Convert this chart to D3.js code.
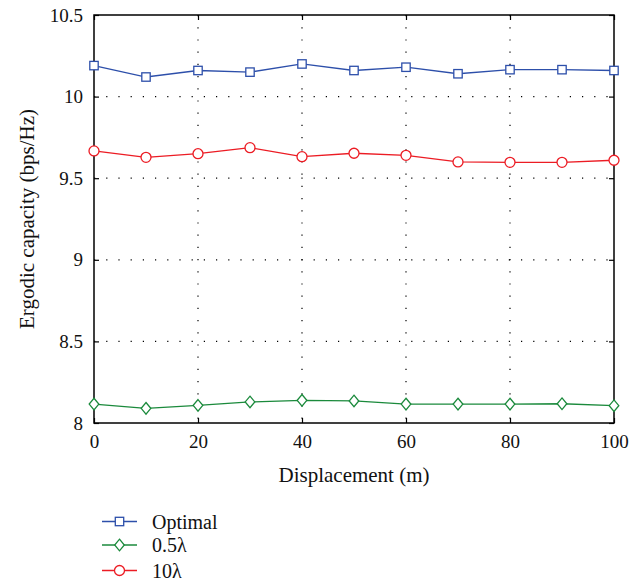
<!DOCTYPE html>
<html><head><meta charset="utf-8">
<script src="https://cdn.jsdelivr.net/npm/d3@7"></script>
<style>body{margin:0;background:#fff}svg{display:block}</style>
</head><body>
<svg id="c" width="643" height="584"></svg>
<script>
const displacement = [0,10,20,30,40,50,60,70,80,90,100];
const optimal = [10.19,10.12,10.16,10.15,10.20,10.16,10.18,10.14,10.165,10.165,10.16];
const half = [8.116,8.09,8.108,8.129,8.139,8.135,8.116,8.116,8.116,8.118,8.106];
const ten = [9.667,9.628,9.65,9.687,9.632,9.653,9.64,9.60,9.597,9.597,9.61];
const xTicks = [0,20,40,60,80,100];
const yTicks = [8,8.5,9,9.5,10,10.5];
const seriesNames = ["Optimal","0.5\u03bb","10\u03bb"];

const FONT = "'Liberation Serif', 'Times New Roman', 'DejaVu Serif', serif";
const svg = d3.select("#c");
const L=94,R=614,T=15,B=423;
const x = d3.scaleLinear().domain([0,100]).range([L,R]);
const y = d3.scaleLinear().domain([8,10.5]).range([B,T]);

const g = svg.append("g");
xTicks.filter(v=>v>0&&v<100).forEach(v=>{
  g.append("line").attr("x1",x(v)).attr("x2",x(v)).attr("y1",T).attr("y2",B)
   .attr("stroke","#000").attr("stroke-width",1.2).attr("stroke-dasharray","1.2,11");
});
yTicks.filter(v=>v>8&&v<10.5).forEach(v=>{
  g.append("line").attr("x1",L).attr("x2",R).attr("y1",y(v)).attr("y2",y(v))
   .attr("stroke","#000").attr("stroke-width",1.2).attr("stroke-dasharray","1.2,11");
});

const xa = svg.append("g").attr("transform",`translate(0,${B})`)
  .call(d3.axisBottom(x).tickValues(xTicks).tickSize(-5).tickPadding(12).tickFormat(d3.format("d")));
const xt = svg.append("g").attr("transform",`translate(0,${T})`)
  .call(d3.axisTop(x).tickValues(xTicks).tickSize(-5).tickFormat(""));
const ya = svg.append("g").attr("transform",`translate(${L},0)`)
  .call(d3.axisLeft(y).tickValues(yTicks).tickSize(-5).tickPadding(11).tickFormat(d=>d3.format("~g")(d)));
const yr = svg.append("g").attr("transform",`translate(${R},0)`)
  .call(d3.axisRight(y).tickValues(yTicks).tickSize(-5).tickFormat(""));
[xa,xt,ya,yr].forEach(a=>{
  a.attr("font-family",FONT).attr("font-size",19);
  a.select(".domain").remove();
  a.selectAll("line").attr("stroke","#000").attr("stroke-width",1.2);
  a.selectAll("text").attr("fill","#111");
});
svg.append("rect").attr("x",L).attr("y",T).attr("width",R-L).attr("height",B-T)
  .attr("fill","none").attr("stroke","#000").attr("stroke-width",1.5);

svg.append("text").attr("x",(L+R)/2).attr("y",482).attr("text-anchor","middle")
  .attr("font-family",FONT).attr("font-size",21).attr("fill","#111").text("Displacement (m)");
svg.append("text").attr("transform",`translate(34,219) rotate(-90)`).attr("text-anchor","middle")
  .attr("font-family",FONT).attr("font-size",21).attr("fill","#111").text("Ergodic capacity (bps/Hz)");

const colors = ["#2d4faa","#1b8a3c","#ec1c24"];
const datasets = [optimal, half, ten];
function marker(sel, type, color){
  if(type===0) sel.append("rect").attr("x",-4.2).attr("y",-4.2).attr("width",8.4).attr("height",8.4).attr("fill","#fff").attr("stroke",color).attr("stroke-width",1.3);
  else if(type===1) sel.append("path").attr("d","M0,-5.8L4.8,0L0,5.8L-4.8,0Z").attr("fill","#fff").attr("stroke",color).attr("stroke-width",1.3);
  else sel.append("circle").attr("r",5).attr("fill","#fff").attr("stroke",color).attr("stroke-width",1.3);
}
const line = d3.line().x((d,i)=>x(displacement[i])).y(d=>y(d));
datasets.forEach((ds,k)=>{
  svg.append("path").datum(ds).attr("d",line).attr("fill","none").attr("stroke",colors[k]).attr("stroke-width",1.3);
  ds.forEach((v,i)=>{
    const m = svg.append("g").attr("transform",`translate(${x(displacement[i])},${y(v)})`);
    marker(m,k,colors[k]);
  });
});

const legY=[521.5,545,570.5];
seriesNames.forEach((n,k)=>{
  const lg = svg.append("g").attr("transform",`translate(102,${legY[k]})`);
  lg.append("line").attr("x1",0).attr("x2",35).attr("stroke",colors[k]).attr("stroke-width",1.3);
  const m = lg.append("g").attr("transform","translate(17.5,0)");
  marker(m,k,colors[k]);
  lg.append("text").attr("x",50).attr("y",7).attr("font-family",FONT).attr("font-size",20).attr("fill","#111").text(n);
});
</script>
</body></html>
